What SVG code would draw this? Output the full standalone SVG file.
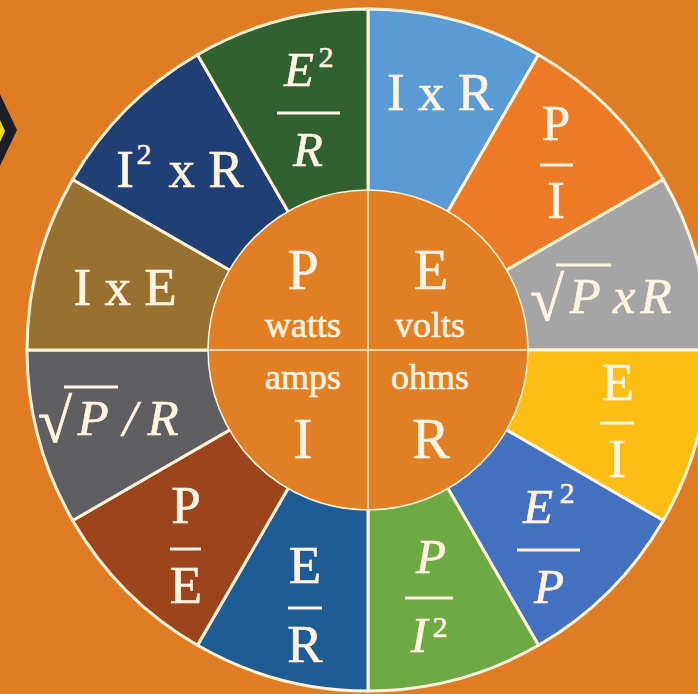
<svg xmlns="http://www.w3.org/2000/svg" width="698" height="694" viewBox="0 0 698 694">
<style>
.seg{stroke:#FFF3DA;stroke-width:3;stroke-linejoin:round}
.t{font-family:"Liberation Serif","Times New Roman",serif;fill:#FFF4E2;stroke:#FFF4E2;stroke-width:0.6;text-anchor:middle}
.it{font-style:italic}
.bar{stroke:#FFF4E2;stroke-width:3}
.thin{stroke:#FFF3DA;stroke-width:1.5;fill:none}
</style>
<rect width="698" height="694" fill="#E07D24"/>
<g id="badge">
<polygon points="17,130 -3,88 -3,172" fill="#1C1D26"/>
<polygon points="5,131 -6,107 -6,155" fill="#F0DC15"/>
</g>
<g id="seg-IxR">
<path class="seg" fill="#5B9BD5" d="M368,350 L368,9 A341,341 0 0 1 538.5,54.69 Z"/>
<text class="t" x="440" y="110" font-size="53">I x R</text>
</g>
<g id="seg-P-over-I">
<path class="seg" fill="#EC7A26" d="M368,350 L538.5,54.69 A341,341 0 0 1 663.31,179.5 Z"/>
<text class="t" x="556" y="140" font-size="51">P</text>
<line class="bar" x1="540" y1="165" x2="573" y2="165"/>
<text class="t" x="556" y="218" font-size="53">I</text>
</g>
<g id="seg-sqrtPxR">
<path class="seg" fill="#A5A5A5" d="M368,350 L663.31,179.5 A341,341 0 0 1 709,350 Z"/>
<text class="t" x="547" y="320" font-size="62">√</text>
<line class="bar" x1="556" y1="265" x2="611" y2="265"/>
<text class="t it" x="585 624 656" y="313" font-size="51">PxR</text>
</g>
<g id="seg-E-over-I">
<path class="seg" fill="#FDBE14" d="M368,350 L709,350 A341,341 0 0 1 663.31,520.5 Z"/>
<text class="t" x="618" y="400" font-size="53">E</text>
<line class="bar" x1="600" y1="423" x2="634" y2="423"/>
<text class="t" x="617" y="477" font-size="54">I</text>
</g>
<g id="seg-E2-over-P">
<path class="seg" fill="#4470C0" d="M368,350 L663.31,520.5 A341,341 0 0 1 538.5,645.31 Z"/>
<text class="t it" x="538" y="523" font-size="49">E</text>
<text class="t" x="567" y="503" font-size="30">2</text>
<line class="bar" x1="517" y1="550" x2="580" y2="550"/>
<text class="t it" x="549" y="603" font-size="49">P</text>
</g>
<g id="seg-P-over-I2">
<path class="seg" fill="#6EAA44" d="M368,350 L538.5,645.31 A341,341 0 0 1 368,691 Z"/>
<text class="t it" x="431" y="573" font-size="49">P</text>
<line class="bar" x1="405" y1="598" x2="453" y2="598"/>
<text class="t it" x="419" y="652" font-size="50">I</text>
<text class="t" x="440" y="637" font-size="30">2</text>
</g>
<g id="seg-E-over-R">
<path class="seg" fill="#1E5C96" d="M368,350 L368,691 A341,341 0 0 1 197.5,645.31 Z"/>
<text class="t" x="305" y="583" font-size="53">E</text>
<line class="bar" x1="288" y1="608" x2="322" y2="608"/>
<text class="t" x="305" y="662" font-size="53">R</text>
</g>
<g id="seg-P-over-E">
<path class="seg" fill="#9C441C" d="M368,350 L197.5,645.31 A341,341 0 0 1 72.69,520.5 Z"/>
<text class="t" x="186" y="523" font-size="53">P</text>
<line class="bar" x1="170" y1="549" x2="201" y2="549"/>
<text class="t" x="186" y="603" font-size="53">E</text>
</g>
<g id="seg-sqrtP-over-R">
<path class="seg" fill="#5F5F62" d="M368,350 L72.69,520.5 A341,341 0 0 1 27,350 Z"/>
<text class="t" x="55" y="442" font-size="62">√</text>
<line class="bar" x1="64" y1="387" x2="118" y2="387"/>
<text class="t it" x="93 130 163" y="435" font-size="51">P/R</text>
</g>
<g id="seg-IxE">
<path class="seg" fill="#987030" d="M368,350 L27,350 A341,341 0 0 1 72.69,179.5 Z"/>
<text class="t" x="125" y="305" font-size="53">I x E</text>
</g>
<g id="seg-I2xR">
<path class="seg" fill="#203F74" d="M368,350 L72.69,179.5 A341,341 0 0 1 197.5,54.69 Z"/>
<text class="t" x="125" y="187" font-size="53">I</text>
<text class="t" x="144" y="164" font-size="30">2</text>
<text class="t" x="206" y="187" font-size="53">x R</text>
</g>
<g id="seg-E2-over-R">
<path class="seg" fill="#31612F" d="M368,350 L197.5,54.69 A341,341 0 0 1 368,9 Z"/>
<text class="t it" x="299" y="86" font-size="49">E</text>
<text class="t" x="326" y="67" font-size="30">2</text>
<line class="bar" x1="277" y1="113" x2="340" y2="113"/>
<text class="t it" x="308" y="166" font-size="49">R</text>
</g>
<g id="hub">
<circle cx="368" cy="350" r="160" class="thin" style="fill:#E17F25"/>
<line class="thin" x1="368" y1="190" x2="368" y2="510"/>
<line class="thin" x1="208" y1="350" x2="528" y2="350"/>
<text class="t" x="303" y="289" font-size="56">P</text>
<text class="t" x="431" y="289" font-size="56">E</text>
<text class="t" x="303" y="337" font-size="36">watts</text>
<text class="t" x="430" y="337" font-size="36">volts</text>
<text class="t" x="303" y="389" font-size="36">amps</text>
<text class="t" x="430" y="389" font-size="36">ohms</text>
<text class="t" x="303" y="458" font-size="56">I</text>
<text class="t" x="431" y="458" font-size="56">R</text>
</g>
</svg>
